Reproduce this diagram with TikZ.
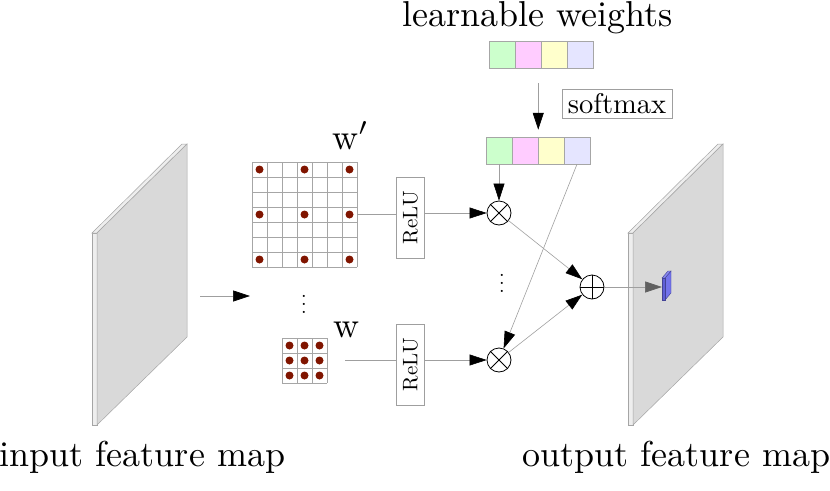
\documentclass[tikz,border=0pt]{standalone}
\usetikzlibrary{arrows.meta,calc}
\definecolor{dotred}{RGB}{128,21,0}
\definecolor{wgreen}{RGB}{204,255,204}
\definecolor{wpink}{RGB}{255,204,255}
\definecolor{wyellow}{RGB}{255,255,204}
\definecolor{wlav}{RGB}{229,229,255}
\definecolor{slabfront}{RGB}{217,217,217}
\definecolor{slabside}{RGB}{238,238,238}
\definecolor{slabedge}{RGB}{165,165,165}
\definecolor{patchfront}{RGB}{95,95,215}
\definecolor{patchside}{RGB}{115,115,235}
\tikzset{
  conn/.style={draw=gray!75, line width=0.6pt},
  arr/.style={conn, -{Triangle[length=17pt,width=11pt,color=black]}},
  garr/.style={conn, -{Triangle[length=17pt,width=11pt,color=gray!75!black]}},
  bigtext/.style={inner sep=0},
  relubox/.style={draw=gray!75, line width=0.6pt, minimum width=28pt, minimum height=81pt, inner sep=0},
  opnode/.style={circle, draw=black, line width=0.8pt, minimum size=24pt, inner sep=0},
  wcell/.style={draw=gray!70, line width=0.5pt, minimum width=26pt, minimum height=27pt, inner sep=0},
  gridline/.style={draw=gray!70, line width=0.5pt},
  slabline/.style={draw=slabedge, line width=0.5pt},
}
\begin{document}
\begin{tikzpicture}[x=1pt,y=-1pt]
\useasboundingbox (0,0) rectangle (830,490);

% input slab
\filldraw[slabline, fill=slabside] (92,233) -- (97,233) -- (97,425) -- (92,425) -- cycle;
\filldraw[slabline, fill=slabside] (92,233) -- (182,144) -- (187,144) -- (97,233) -- cycle;
\filldraw[slabline, fill=slabfront] (97,233) -- (187,144) -- (187,337) -- (97,425) -- cycle;
% output slab
\begin{scope}[xshift=536pt]
\filldraw[slabline, fill=slabside] (92,233) -- (97,233) -- (97,425) -- (92,425) -- cycle;
\filldraw[slabline, fill=slabside] (92,233) -- (182,144) -- (187,144) -- (97,233) -- cycle;
\filldraw[slabline, fill=slabfront] (97,233) -- (187,144) -- (187,337) -- (97,425) -- cycle;
\end{scope}
% blue patch
\filldraw[fill=patchside, draw=patchfront!70!black, line width=0.4pt] (665,278) -- (671,271) -- (671,293) -- (665,300) -- cycle;
\filldraw[fill=patchside!85!white, draw=patchfront!70!black, line width=0.4pt] (662,278) -- (668,271) -- (671,271) -- (665,278) -- cycle;
\filldraw[fill=patchfront, draw=patchfront!70!black, line width=0.4pt] (662,278) rectangle (665,300);
\coordinate (patch) at (662,287);

% labels
\node[bigtext, anchor=base] (inlab) at (142.5,466) {\scalebox{3.6}{input feature map}};
\node[bigtext, anchor=base] (outlab) at (676.5,466) {\scalebox{3.6}{output feature map}};
\node[bigtext, anchor=base] (lwlab) at (537.5,26) {\scalebox{3.6}{learnable weights}};

% arrow from input slab
\coordinate (inA) at (200,296);
\coordinate (inB) at (250,296);
\draw[arr] (inA) -- (inB);

% big grid w'
\node[minimum size=105pt, inner sep=0] (bigG) at (304.5,214.5) {};
\draw[gridline, shift={(252,162)}] (0,0) grid[step=15pt] (105,105);
\foreach \i in {0,3,6} \foreach \j in {0,3,6}
  \fill[dotred] (259.5+15*\i, 169.5+15*\j) circle (4pt);
\node[bigtext, anchor=base west] (wplab) at (332,149) {\scalebox{3.6}{$\mathrm{w}'$}};

% small grid w
\node[minimum size=45pt, inner sep=0] (smG) at (304.5,360.5) {};
\draw[gridline, shift={(282,338)}] (0,0) grid[step=15pt] (45,45);
\foreach \i in {0,1,2} \foreach \j in {0,1,2}
  \fill[dotred] (289.5+15*\i, 345.5+15*\j) circle (4pt);
\node[bigtext, anchor=base west] (wlab) at (333,337) {\scalebox{3.6}{$\mathrm{w}$}};

% vdots
\node[inner sep=0] (vd1) at (304,298) {\scalebox{2}{$\vdots$}};
\node[inner sep=0] (vd2) at (502,277) {\scalebox{2}{$\vdots$}};

% ReLU boxes
\node[relubox] (relu1) at (410.5,217.5) {\scalebox{2.1}{\rotatebox{90}{ReLU}}};
\node[relubox] (relu2) at (410.5,364.5) {\scalebox{2.1}{\rotatebox{90}{ReLU}}};

% operators
\node[opnode] (m1) at (499,213) {};
\node[opnode] (m2) at (499,360) {};
\node[opnode] (pl) at (592,287) {};
\draw[line width=0.8pt] (m1.north west) -- (m1.south east) (m1.north east) -- (m1.south west);
\draw[line width=0.8pt] (m2.north west) -- (m2.south east) (m2.north east) -- (m2.south west);
\draw[line width=0.8pt] (pl.north) -- (pl.south) (pl.west) -- (pl.east);

% weights rows
\node[wcell, fill=wgreen] (t1) at (502,54.5) {};
\node[wcell, fill=wpink] (t2) at (528,54.5) {};
\node[wcell, fill=wyellow] (t3) at (554,54.5) {};
\node[wcell, fill=wlav] (t4) at (580,54.5) {};
\node[wcell, fill=wgreen] (s1) at (499,150.5) {};
\node[wcell, fill=wpink] (s2) at (525,150.5) {};
\node[wcell, fill=wyellow] (s3) at (551,150.5) {};
\node[wcell, fill=wlav] (s4) at (577,150.5) {};
\node[draw=gray!75, line width=0.6pt, minimum width=110pt, minimum height=29pt, inner sep=0] (sm) at (617,103.5) {\scalebox{2.85}{softmax}};

% connectors
\draw[arr, shorten <=15pt, shorten >=7pt] (s2.north east |- t2.south) -- (s2.north east);
\draw[conn] (bigG.east) -- (bigG.east -| relu1.west);
\draw[arr] (relu1.east |- m1) -- (m1);
\draw[conn] ($(smG.east)+(18,0)$) -- (smG.east -| relu2.west);
\draw[arr] (relu2.east |- m2) -- (m2);
\draw[arr] (s1.south) -- (m1.north);
\draw[arr] (s4.south) -- (m2);
\draw[arr] (m1) -- (pl);
\draw[arr] (m2) -- (pl);
\draw[garr] (pl) -- (patch);
\end{tikzpicture}
\end{document}
